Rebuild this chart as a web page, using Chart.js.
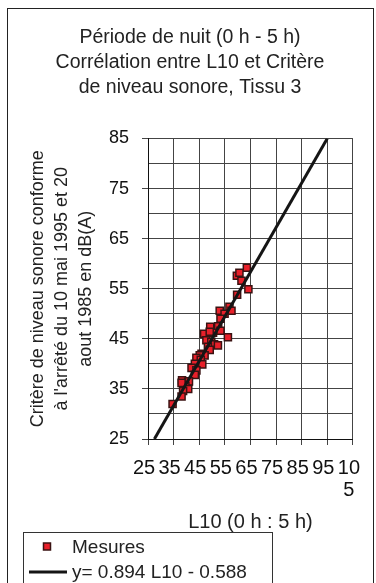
<!DOCTYPE html>
<html>
<head>
<meta charset="utf-8">
<script src="https://cdn.jsdelivr.net/npm/chart.js@4.4.1/dist/chart.umd.min.js"></script>
<style>
  html, body { margin: 0; padding: 0; background: #fff; }
</style>
</head>
<body>
<canvas id="myChart" width="376" height="583"></canvas>
<script>
const titleLines = ['Période de nuit (0 h - 5 h)', 'Corrélation entre L10 et Critère', 'de niveau sonore, Tissu 3'];
const yTitleLines = ['Critère de niveau sonore conforme', "à l'arrêté du 10 mai 1995 et 20", 'aout 1985 en dB(A)'];
const xTitle = 'L10 (0 h : 5 h)';

// measured points (L10, critere)
const mesuresX = [63.6, 59.7, 60.7, 61.5, 64.2, 59.8, 56.8, 57.6, 53.0, 54.9,
                  53.3, 52.4, 49.3, 46.9, 50.4, 53.3, 56.2, 49.1, 47.8, 49.7,
                  50.8, 52.3, 48.4, 49.1, 45.9, 47.1, 45.2, 43.9, 45.6, 43.3,
                  46.2, 42.0, 43.9, 43.3, 38.3, 40.7, 41.0, 39.6, 40.7, 38.1,
                  38.7, 38.1, 34.6];
const mesuresY = [59.2, 57.6, 58.2, 56.6, 54.9, 53.8, 51.4, 50.6, 50.6, 50.0,
                  49.0, 47.5, 47.4, 46.0, 46.2, 46.6, 45.3, 46.4, 44.7, 44.4,
                  43.9, 43.7, 43.4, 42.8, 42.0, 41.7, 41.7, 41.2, 40.8, 40.0,
                  39.9, 39.2, 38.7, 37.8, 36.7, 36.4, 36.5, 35.6, 35.0, 36.2,
                  34.6, 33.5, 32.0];

// regression line end points
const fitLabel = 'y= 0.894 L10 - 0.588';
const fitX = [27.5, 95];
const fitY = [25, 85];

const xTicks = [25, 35, 45, 55, 65, 75, 85, 95, 105];

Chart.defaults.font.family = '"Liberation Sans", Arial, sans-serif';
Chart.defaults.color = '#222';

const mesures = mesuresX.map((x, i) => ({ x: x, y: mesuresY[i] }));
const fit = fitX.map((x, i) => ({ x: x, y: fitY[i] }));

const frame = {
  id: 'frame',
  beforeDraw(chart) {
    const c = chart.ctx;
    c.save();
    c.fillStyle = '#fff';
    c.fillRect(0, 0, chart.width, chart.height);
    c.strokeStyle = '#222';
    c.lineWidth = 1;
    c.strokeRect(7.5, 8.5, 366, chart.height + 20);
    c.restore();
  },
  afterDraw(chart) {
    // legend box, cut by the bottom edge like the original
    const c = chart.ctx;
    const top = chart.height - 51;
    const ds = chart.data.datasets;
    c.save();
    c.fillStyle = '#fff';
    c.fillRect(23.5, top + 0.5, 249, 80);
    c.strokeStyle = '#333';
    c.lineWidth = 1;
    c.strokeRect(23.5, top + 0.5, 249, 80);
    c.fillStyle = ds[1].backgroundColor;
    c.strokeStyle = ds[1].borderColor;
    c.lineWidth = 1.5;
    c.fillRect(43.5, top + 11, 7, 7);
    c.strokeRect(43.5, top + 11, 7, 7);
    c.strokeStyle = ds[0].borderColor;
    c.lineWidth = 3;
    c.beginPath();
    c.moveTo(29, top + 40);
    c.lineTo(67, top + 40);
    c.stroke();
    c.fillStyle = '#222';
    c.font = '19px "Liberation Sans", Arial, sans-serif';
    c.textBaseline = 'middle';
    c.fillText(ds[1].label, 72, top + 15.5);
    c.fillText(ds[0].label, 72, top + 41);
    c.restore();
  }
};

new Chart(document.getElementById('myChart'), {
  type: 'scatter',
  data: {
    datasets: [{
      label: fitLabel,
      data: fit,
      showLine: true,
      borderColor: '#151515',
      borderWidth: 3,
      pointRadius: 0,
      order: 1
    }, {
      label: 'Mesures',
      data: mesures,
      pointStyle: 'rect',
      pointRadius: 5,
      backgroundColor: '#e8202a',
      borderColor: '#3a1212',
      borderWidth: 1.5,
      order: 2
    }]
  },
  plugins: [frame],
  options: {
    responsive: false,
    animation: false,
    layout: { padding: { left: 26, right: 22, top: 0, bottom: 50 } },
    plugins: {
      legend: { display: false },
      tooltip: { enabled: false },
      title: {
        display: true,
        text: titleLines,
        color: '#222',
        font: { size: 19.5, weight: 'normal', lineHeight: 25 / 19.5 },
        padding: { top: 25.5, bottom: 38 }
      }
    },
    scales: {
      x: {
        type: 'linear',
        min: 25,
        max: 105,
        afterFit: s => { s.height = 94; },
        afterBuildTicks: s => { s.ticks = xTicks.map(v => ({ value: v })); },
        ticks: {
          autoSkip: false,
          maxRotation: 0,
          padding: 12,
          labelOffset: -4,
          color: '#111',
          font: { size: 20, lineHeight: 22 / 20 },
          callback: v => {
            const s = String(v);
            return s.length > 2 ? [s.slice(0, 2), s.slice(2)] : s;
          }
        },
        grid: { color: '#444', lineWidth: 1, tickLength: 6, tickColor: '#444' },
        border: { color: '#111', width: 1 },
        title: {
          display: true,
          text: xTitle,
          color: '#222',
          font: { size: 20, lineHeight: 22 / 20 },
          padding: { top: 0, bottom: 0 }
        }
      },
      y: {
        min: 25,
        max: 85,
        afterFit: s => { s.width = 122; },
        ticks: {
          stepSize: 5,
          maxTicksLimit: 20,
          padding: 13,
          color: '#111',
          font: { size: 18 },
          callback: v => (v % 10 === 5 ? v : '')
        },
        grid: {
          color: '#444',
          lineWidth: 1,
          tickLength: 6,
          tickColor: ctx => (ctx.tick && ctx.tick.value % 10 === 5 ? '#444' : 'rgba(0,0,0,0)')
        },
        border: { color: '#111', width: 1 },
        title: {
          display: true,
          text: yTitleLines,
          color: '#222',
          font: { size: 18, lineHeight: 24 / 18 },
          padding: { top: 0, bottom: 0 }
        }
      }
    }
  }
});
</script>
</body>
</html>
